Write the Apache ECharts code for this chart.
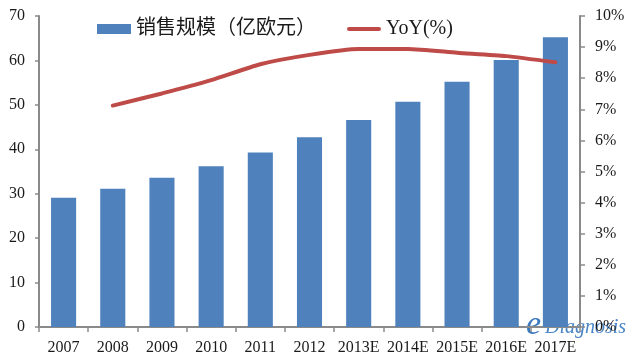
<!DOCTYPE html>
<html>
<head>
<meta charset="utf-8">
<script src="https://cdn.jsdelivr.net/npm/echarts@6/dist/echarts.min.js"></script>
<style>html,body{margin:0;padding:0;background:#fff}#c{width:644px;height:358px}</style>
</head>
<body>
<div id="c"></div>
<script>
var categories = ['2007','2008','2009','2010','2011','2012','2013E','2014E','2015E','2016E','2017E'];
var salesValues = [29.1, 31.1, 33.6, 36.2, 39.3, 42.7, 46.6, 50.7, 55.2, 60.1, 65.2];
var yoyValues = [null, 7.12, 7.51, 7.94, 8.45, 8.75, 8.94, 8.94, 8.82, 8.71, 8.51];
var leftTicks = {min: 0, max: 70, interval: 10};
var rightTicks = {min: 0, max: 10, interval: 1};
var seriesNames = ['销售规模（亿欧元）', 'YoY(%)'];

var font = '"Liberation Serif", "Noto Sans CJK SC", serif';
var axisColor = '#8a8a8a';
var chart = echarts.init(document.getElementById('c'), null, {renderer: 'canvas'});
chart.setOption({
  animation: false,
  backgroundColor: '#fff',
  grid: {left: 39, right: 64, top: 16, bottom: 31, containLabel: false},
  legend: {
    left: 92, top: 14,
    itemWidth: 34, itemHeight: 10, itemGap: 31,
    textStyle: {fontFamily: font, fontSize: 20, color: '#1a1a1a'},
    data: [
      {name: seriesNames[0], icon: 'rect'},
      {name: seriesNames[1], icon: 'path://M2 0H32A2 2 0 0 1 32 4H2A2 2 0 0 1 2 0Z'}
    ]
  },
  xAxis: {
    type: 'category', data: categories,
    axisLine: {lineStyle: {color: axisColor, width: 2}},
    axisTick: {show: true, length: 5, lineStyle: {color: axisColor, width: 1.5}},
    axisLabel: {fontFamily: font, fontSize: 16, color: '#1a1a1a', margin: 13, interval: 0}
  },
  yAxis: [{
    type: 'value', min: leftTicks.min, max: leftTicks.max, interval: leftTicks.interval,
    axisLine: {show: true, lineStyle: {color: axisColor, width: 2}},
    axisTick: {show: true, length: 4, lineStyle: {color: axisColor, width: 1.5}},
    splitLine: {show: false},
    axisLabel: {fontFamily: font, fontSize: 16, color: '#1a1a1a', margin: 14}
  }, {
    type: 'value', position: 'right', min: rightTicks.min, max: rightTicks.max, interval: rightTicks.interval,
    axisLine: {show: true, lineStyle: {color: axisColor, width: 2}},
    axisTick: {show: true, length: 5, lineStyle: {color: axisColor, width: 1.5}},
    splitLine: {show: false},
    axisLabel: {fontFamily: font, fontSize: 16, color: '#1a1a1a', margin: 15, formatter: '{value}%'}
  }],
  series: [{
    name: seriesNames[0], type: 'bar', data: salesValues, barWidth: '51%',
    itemStyle: {color: '#4F81BD'}
  }, {
    name: seriesNames[1], type: 'line', yAxisIndex: 1, data: yoyValues,
    symbol: 'none', smooth: 0.2, connectNulls: false,
    lineStyle: {color: '#BE4B48', width: 4, cap: 'round'},
    itemStyle: {color: '#BE4B48'}
  }],
  graphic: [{
    type: 'text', left: 526, top: 308,
    style: {text: 'e', font: 'italic 34px "Liberation Serif"', fill: '#3b78c0'}
  }, {
    type: 'text', left: 545, top: 318,
    style: {text: 'Diagnosis', font: 'italic 20px "Liberation Serif"', fill: '#4a86c8'}
  }]
});
</script>
</body>
</html>
